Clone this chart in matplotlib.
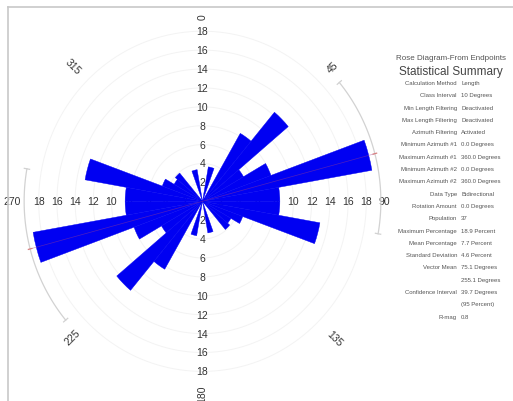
import numpy as np
import matplotlib
matplotlib.use("Agg")
import matplotlib.pyplot as plt
from matplotlib.lines import Line2D

plt.rcParams['font.family'] = ['Liberation Sans', 'DejaVu Sans']

# Rose diagram data: 10-degree classes over 0-180 (bidirectional, mirrored to 180-360)
bin_starts = np.arange(0, 180, 10)
percent = [0.0, 3.7, 0.0, 8.3, 12.3, 5.2, 8.0, 18.9, 8.5,
           8.5, 13.1, 4.7, 3.6, 3.9, 0.0, 0.0, 3.4, 0.0]
ring_values = [2, 4, 6, 8, 10, 12, 14, 16, 18]
azimuth_labels = ["0", "45", "90", "135", "180", "225", "270", "315"]
vector_mean = 75.1
ci_half = 25.0

summary_rows = [
    ("Calculation Method", "Length"),
    ("Class Interval", "10 Degrees"),
    ("Min Length Filtering", "Deactivated"),
    ("Max Length Filtering", "Deactivated"),
    ("Azimuth Filtering", "Activated"),
    ("Minimum Azimuth #1", "0.0 Degrees"),
    ("Maximum Azimuth #1", "360.0 Degrees"),
    ("Minimum Azimuth #2", "0.0 Degrees"),
    ("Maximum Azimuth #2", "360.0 Degrees"),
    ("Data Type", "Bidirectional"),
    ("Rotation Amount", "0.0 Degrees"),
    ("Population", "37"),
    ("Maximum Percentage", "18.9 Percent"),
    ("Mean Percentage", "7.7 Percent"),
    ("Standard Deviation", "4.6 Percent"),
    ("Vector Mean", "75.1 Degrees"),
    ("", "255.1 Degrees"),
    ("Confidence Interval", "39.7 Degrees"),
    ("", "(95 Percent)"),
    ("R-mag", "0.8"),
]

W, H = 513, 402
fig = plt.figure(figsize=(W / 100, H / 100), dpi=100)
fig.patch.set_facecolor("white")

# light frame around the drawing
fig.add_artist(Line2D([8 / W, 1.0], [1 - 8 / H, 1 - 8 / H], color="#c8c8c8", lw=1.2))
fig.add_artist(Line2D([8 / W, 8 / W], [0, 1 - 8 / H], color="#c8c8c8", lw=1.2))

cx, cy = 202.5, 202.3          # centre in pixels (from top-left)
sx, sy = 9.1, 9.45             # pixels per percent unit
R = 20.0
ax = fig.add_axes([(cx - R * sx) / W, (H - cy - R * sy) / H,
                   2 * R * sx / W, 2 * R * sy / H], projection="polar")
ax.set_theta_zero_location("N")
ax.set_theta_direction(-1)
ax.set_ylim(0, R)
ax.set_aspect("auto")
ax.axis("off")

# faint concentric grid
t = np.linspace(0, 2 * np.pi, 361)
for r in ring_values:
    ax.plot(t, np.full_like(t, r), color="#f3f3f3", lw=0.7, zorder=1)

# ring labels along the four cardinal directions
for r in ring_values:
    for ang in (0, 90, 180, 270):
        ax.text(np.deg2rad(ang), r, str(r), ha="center", va="center",
                fontsize=7.5, color="#333333", zorder=2)

# bidirectional bars
theta = np.deg2rad(np.concatenate([bin_starts, bin_starts + 180]) + 5)
vals = np.concatenate([percent, percent])
ax.bar(theta, vals, width=np.deg2rad(10), bottom=0, align="center",
       color="#0000f2", edgecolor="#0000f2", linewidth=0.3, zorder=3)

# vector mean line and confidence arcs
for m in (vector_mean, vector_mean + 180):
    ax.plot([np.deg2rad(m)] * 2, [0, 19.6], color="#9a3c8c", lw=0.5, alpha=0.5, zorder=4)
    a = np.deg2rad(np.linspace(m - ci_half, m + ci_half, 60))
    ax.plot(a, np.full_like(a, 19.6), color="#d2d2d2", lw=0.9, zorder=4)
    for e in (m - ci_half, m + ci_half):
        ax.plot([np.deg2rad(e)] * 2, [19.3, 19.9], color="#d2d2d2", lw=0.9, zorder=4)
    ax.plot([np.deg2rad(m)] * 2, [19.4, 19.8], color="#d88080", lw=0.9, zorder=4)

# azimuth labels (radial orientation)
az_pos = {"0": (0, 19.6, 90), "90": (90, 20.0, 0), "180": (180, 20.3, 90),
          "270": (270, 20.9, 0), "45": (45, 20.2, 45), "135": (135, 20.5, -45),
          "225": (225, 20.2, 45), "315": (315, 20.2, -45)}
for lab in azimuth_labels:
    ang, r, rot = az_pos[lab]
    ax.text(np.deg2rad(ang), r, lab, ha="center", va="center", rotation=rot,
            rotation_mode="anchor", fontsize=7.5, color="#333333", clip_on=False)

# summary panel
fig.text(451 / W, 1 - 59 / H, "Rose Diagram-From Endpoints", ha="center", va="center",
         fontsize=5.8, color="#555555")
fig.text(451 / W, 1 - 72 / H, "Statistical Summary", ha="center", va="center",
         fontsize=8.5, color="#444444")
for i, (lab, val) in enumerate(summary_rows):
    y = 1 - (83.5 + 12.3 * i) / H
    if lab:
        fig.text(457 / W, y, lab, ha="right", va="center", fontsize=4.3, color="#555555")
    fig.text(461 / W, y, val, ha="left", va="center", fontsize=4.3, color="#555555")

fig.savefig("out.png", dpi=100)
